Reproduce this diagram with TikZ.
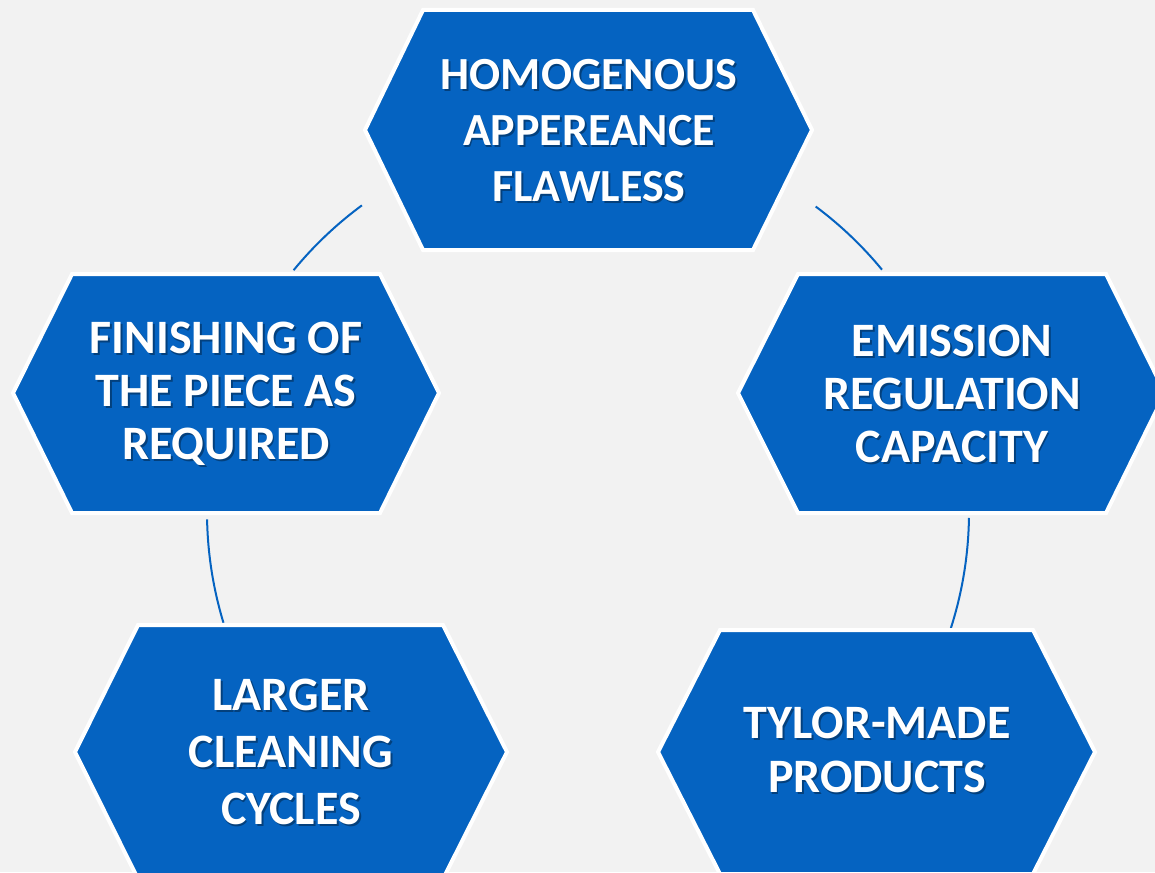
\documentclass[tikz,border=0pt]{standalone}
\usepackage{fontspec}
\setmainfont{Carlito}
\usetikzlibrary{calc}
\definecolor{hexblue}{HTML}{0563C1}
\definecolor{bggray}{HTML}{F2F2F2}
\tikzset{
  hexshape/.style={fill=hexblue, draw=white, line width=4pt, line join=miter},
  hextext/.style={text=white, align=center, inner sep=0pt},
  hexshadow/.style={text=black, opacity=0.35, align=center, inner sep=0pt},
  ring/.style={draw=hexblue, line width=2pt}
}
\newcommand{\hexlabel}[5]{%
  \node[hexshadow, font=\fontsize{#3}{#4}\selectfont\bfseries] at ($(#1)+(1.8,1.8)$) {#5};
  \node[hextext, font=\fontsize{#3}{#4}\selectfont\bfseries] (#2) at (#1) {#5};
}
\begin{document}
\begin{tikzpicture}[x=1pt,y=-1pt]
\useasboundingbox (0,0) rectangle (1155,872);
\clip (0,0) rectangle (1155,872);
\fill[bggray] (0,0) rectangle (1155,872);
% ring arcs
\coordinate (c) at (588,512);
\coordinate (a1) at ($(c)+(126.4:381pt)$);
\coordinate (a2) at ($(c)+(181.1:381pt)$);
\coordinate (a3) at ($(c)+(-0.9:381pt)$);
\coordinate (a4) at ($(c)+(53.3:381pt)$);
\draw[ring] (a1) arc[start angle=126.4, end angle=140.6, radius=381pt];
\draw[ring] (a2) arc[start angle=181.1, end angle=196.9, radius=381pt];
\draw[ring] (a3) arc[start angle=-0.9, end angle=-17.8, radius=381pt];
\draw[ring] (a4) arc[start angle=53.3, end angle=39.5, radius=381pt];
% hexagons
\draw[hexshape] (423,10) -- (753,10) -- (812,130) -- (753,250) -- (423,250) -- (365,130) -- cycle;
\draw[hexshape] (72,274) -- (380,274) -- (439,393) -- (380,513) -- (72,513) -- (13,393) -- cycle;
\draw[hexshape] (798,274) -- (1106,274) -- (1165,393) -- (1106,513) -- (798,513) -- (738,393) -- cycle;
\draw[hexshape] (138,625) -- (443,625) -- (507,752) -- (443,879) -- (138,879) -- (75,752) -- cycle;
\draw[hexshape] (720,630) -- (1033,630) -- (1095,752) -- (1033,874) -- (720,874) -- (658,752) -- cycle;
% labels
\coordinate (ph) at (589,131);
\coordinate (pf) at (226,394);
\coordinate (pe) at (952,394);
\coordinate (pl) at (291,752);
\coordinate (pt) at (877,750);
\hexlabel{ph}{th}{46}{56}{HOMOGENOUS\\APPEREANCE\\FLAWLESS}
\hexlabel{pf}{tf}{48}{53}{FINISHING OF\\THE PIECE AS\\REQUIRED}
\hexlabel{pe}{te}{48}{53}{EMISSION\\REGULATION\\CAPACITY}
\hexlabel{pl}{tl}{48}{57}{LARGER\\CLEANING\\CYCLES}
\hexlabel{pt}{tt}{48}{54}{TYLOR-MADE\\PRODUCTS}
\end{tikzpicture}
\end{document}
